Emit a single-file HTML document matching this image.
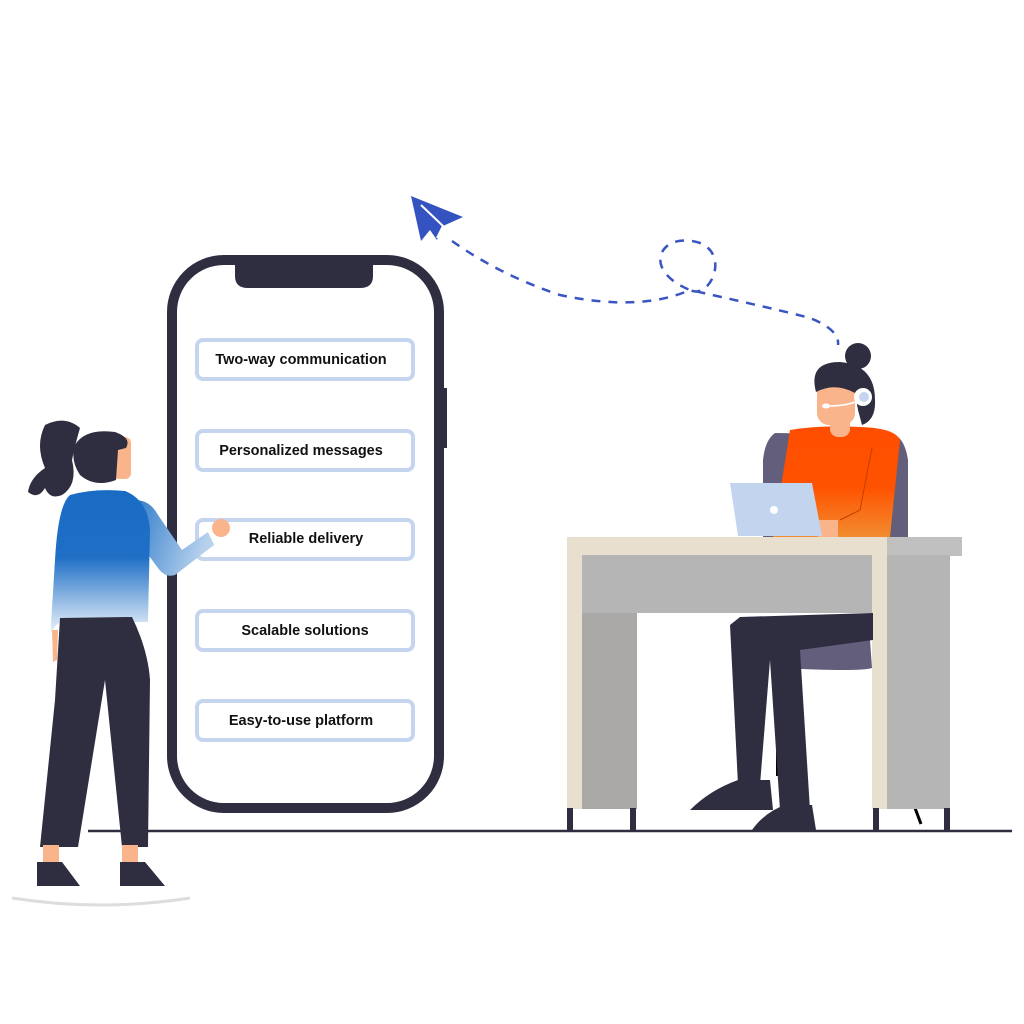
<!DOCTYPE html>
<html><head><meta charset="utf-8"><style>
body{margin:0;background:#fff}
svg{display:block}
text{font-family:"Liberation Sans",sans-serif;font-weight:bold;font-size:14.5px;fill:#111}
</style></head><body>
<svg width="1024" height="1024" viewBox="0 0 1024 1024" xmlns="http://www.w3.org/2000/svg">
<defs>
<linearGradient id="shirt" x1="0" y1="0" x2="0" y2="1">
<stop offset="0" stop-color="#1a6bc4"/><stop offset="0.45" stop-color="#1f6fc6"/><stop offset="1" stop-color="#ffffff"/></linearGradient>
<linearGradient id="arm" x1="0" y1="0" x2="1" y2="0.3">
<stop offset="0" stop-color="#2a78c8"/><stop offset="1" stop-color="#b8d2ee"/></linearGradient>
<linearGradient id="orange" x1="0" y1="0" x2="0" y2="1">
<stop offset="0" stop-color="#ff4d00"/><stop offset="0.55" stop-color="#ff5200"/><stop offset="1" stop-color="#f28c30"/></linearGradient>
</defs>
<line x1="88" y1="831" x2="1012" y2="831" stroke="#2f2e41" stroke-width="2.5"/>
<path d="M12 898 Q100 912 190 898" fill="none" stroke="#ddd" stroke-width="3"/>
<!-- phone -->
<rect x="441" y="388" width="6" height="60" fill="#2f2e41"/>
<rect x="172" y="260" width="267" height="548" rx="52" fill="#fff" stroke="#2f2e41" stroke-width="10"/>
<path d="M235 260 H373 V276 Q373 288 360 288 H248 Q235 288 235 276 Z" fill="#2f2e41"/>
<g fill="#fff" stroke="#c5d5ef" stroke-width="4">
<rect x="197" y="340" width="216" height="39" rx="6"/>
<rect x="197" y="431" width="216" height="39" rx="6"/>
<rect x="197" y="520" width="216" height="39" rx="6"/>
<rect x="197" y="611" width="216" height="39" rx="6"/>
<rect x="197" y="701" width="216" height="39" rx="6"/>
</g>
<text x="301" y="364" text-anchor="middle">Two-way communication</text>
<text x="301" y="455" text-anchor="middle">Personalized messages</text>
<text x="306" y="543" text-anchor="middle">Reliable delivery</text>
<text x="305" y="635" text-anchor="middle">Scalable solutions</text>
<text x="301" y="725" text-anchor="middle">Easy-to-use platform</text>
<!-- plane + dashed path -->
<path d="M411 196 L463 217 L443 226 L437 240 L430 230 L421 241 Z" fill="#3452c0"/>
<path d="M421 205 L443 226 L437 238" fill="none" stroke="#fff" stroke-width="2"/>
<path d="M452 241 Q500 275 560 295 Q640 312 690 290 C640 270 660 230 700 243 C730 255 710 300 690 290 Q780 310 810 318 Q840 330 838 345" fill="none" stroke="#3a55c2" stroke-width="2.5" stroke-dasharray="9 8"/>
<!-- left woman -->
<path d="M45 425 Q65 415 80 428 Q75 445 72 460 Q78 485 62 495 Q50 500 45 488 Q38 500 28 492 Q30 478 45 468 Q35 445 45 425Z" fill="#2f2e41"/>
<rect x="113" y="437" width="18" height="42" rx="6" fill="#f9b48c"/>
<path d="M75 445 Q85 428 115 432 Q132 438 126 448 L118 450 L116 480 Q95 488 80 475 Q70 460 75 445Z" fill="#2f2e41"/>
<path d="M135 500 Q150 500 158 515 L182 550 L208 532 L214 545 L175 575 Q165 578 158 568 L130 530Z" fill="url(#arm)"/>
<circle cx="221" cy="528" r="9" fill="#f9b48c"/>
<path d="M70 495 Q95 488 125 491 Q148 500 150 530 L148 622 L60 622 Q50 630 50 640 L55 560 Q58 505 70 495Z" fill="url(#shirt)"/>
<path d="M52 630 L58 630 L57 660 L53 662Z" fill="#f9b48c"/>
<path d="M60 618 L132 617 Q148 650 150 680 L148 847 L122 847 L105 680 L78 847 L40 847 L55 700Z" fill="#2f2e41"/>
<rect x="43" y="845" width="16" height="18" fill="#f9b48c"/><rect x="122" y="845" width="16" height="18" fill="#f9b48c"/>
<path d="M37 862 H62 L80 886 H37Z" fill="#2f2e41"/>
<path d="M120 862 H145 L165 886 H120Z" fill="#2f2e41"/>
<!-- chair -->
<path d="M775 433 Q765 440 763 460 V537 H908 V460 Q905 440 895 435Z" fill="#625e7b"/>
<path d="M780 640 L870 640 L872 668 Q860 672 780 668Z" fill="#625e7b"/>
<rect x="776" y="668" width="4" height="108" fill="#000"/>
<line x1="915" y1="808" x2="921" y2="824" stroke="#000" stroke-width="3"/>
<!-- desk woman -->
<path d="M790 430 Q820 425 860 427 Q895 428 900 440 L890 537 H773 Z" fill="url(#orange)"/>
<path d="M872 448 L860 510 L840 520" fill="none" stroke="#c34000" stroke-width="1"/>
<rect x="830" y="415" width="20" height="22" rx="8" fill="#f9b48c"/>
<rect x="817" y="375" width="38" height="50" rx="12" fill="#f9b48c"/>
<circle cx="858" cy="356" r="13" fill="#2f2e41"/>
<path d="M816 392 Q808 362 840 362 Q875 365 875 400 Q876 420 862 425 L858 410 L855 393 Q835 382 816 392Z" fill="#2f2e41"/>
<circle cx="863" cy="397" r="9" fill="#fff"/><circle cx="864" cy="397" r="5" fill="#c5d5ef"/>
<path d="M855 402 Q845 406 828 406" stroke="#fff" stroke-width="1.5" fill="none"/>
<ellipse cx="826" cy="406" rx="4" ry="2.5" fill="#fff"/>
<rect x="818" y="520" width="20" height="17" fill="#f9b48c"/>
<path d="M730 483 H812 L822 536 H738Z" fill="#c2d4ee"/>
<circle cx="774" cy="510" r="4" fill="#fff"/>
<!-- desk -->
<rect x="567" y="537" width="320" height="19" fill="#e8dfcf"/>
<rect x="887" y="537" width="75" height="19" fill="#c0c0c0"/>
<rect x="582" y="555" width="291" height="58" fill="#b5b5b5"/>
<rect x="567" y="555" width="15" height="254" fill="#e8dfcf"/>
<rect x="582" y="613" width="55" height="196" fill="#aaa9a7"/>
<rect x="872" y="555" width="15" height="254" fill="#e8dfcf"/>
<rect x="887" y="555" width="63" height="254" fill="#b5b5b5"/>
<rect x="567" y="808" width="6" height="23" fill="#2f2e41"/><rect x="630" y="808" width="6" height="23" fill="#2f2e41"/>
<rect x="873" y="808" width="6" height="23" fill="#2f2e41"/><rect x="944" y="808" width="6" height="23" fill="#2f2e41"/>
<!-- legs -->
<path d="M740 617 L873 613 L873 640 L800 650 L810 810 L780 810 L770 660 L760 785 L738 785 L730 625Z" fill="#2f2e41"/>
<path d="M738 780 L770 780 L773 810 H690 Q710 790 738 780Z" fill="#2f2e41"/>
<path d="M785 805 L812 805 L816 830 H752 Q765 812 785 805Z" fill="#2f2e41"/>
</svg>
</body></html>
